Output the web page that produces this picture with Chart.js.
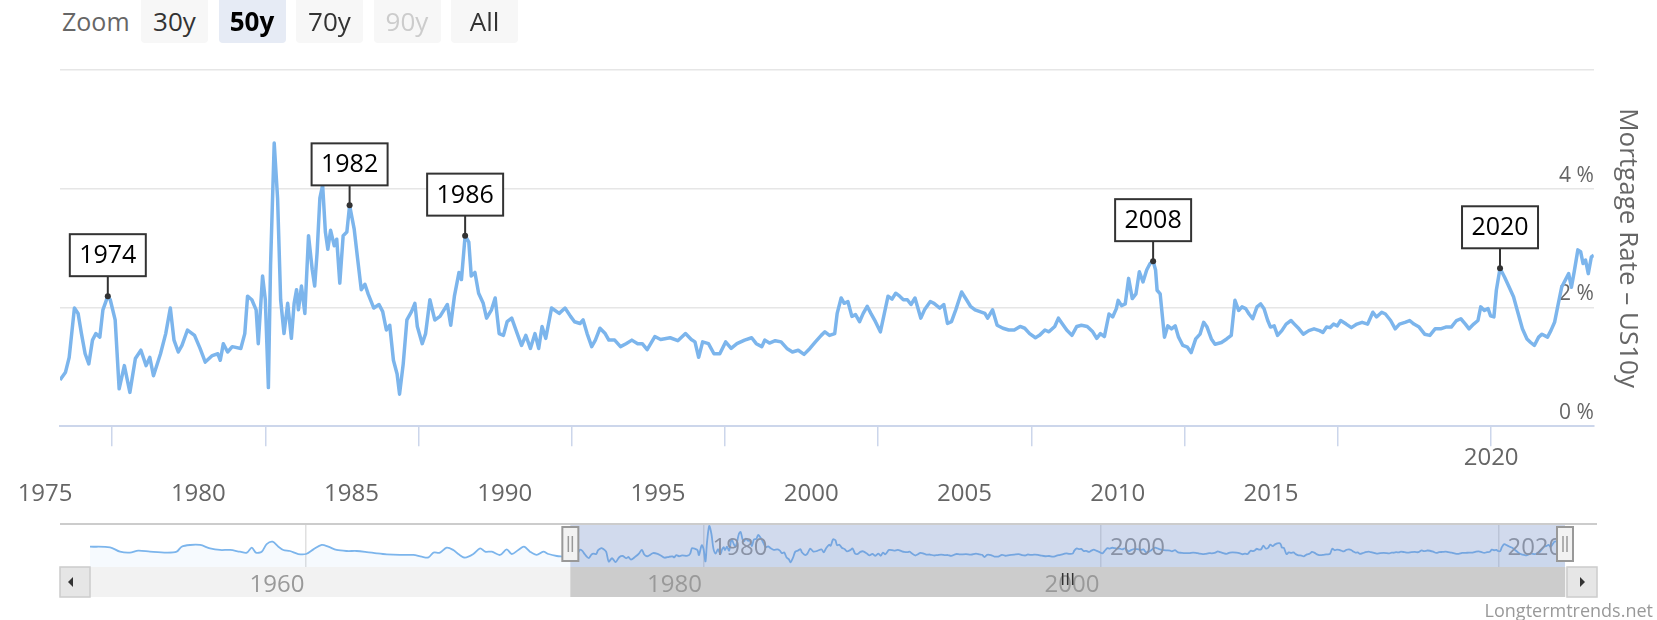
<!DOCTYPE html>
<html>
<head>
<meta charset="utf-8">
<script src="https://cdn.jsdelivr.net/npm/chart.js@4.4.0/dist/chart.umd.min.js"></script>
<style>
  html, body { margin: 0; padding: 0; background: #fff; }
  body { width: 1657px; height: 620px; position: relative; overflow: hidden; font-family: "Open Sans", sans-serif; }
  #mainChart { position: absolute; left: 0; top: 0; }
  #navChart { position: absolute; left: 0; top: 500px; }
  #zoomLabel { position: absolute; left: 62px; top: 0; height: 43px; line-height: 43px; font-size: 25px; color: #666; }
  .rbtn { position: absolute; top: 0; width: 67px; height: 43px; line-height: 43px; text-align: center;
          font-size: 26px; color: #333; background: #f7f7f7; border-radius: 0 0 4px 4px; }
  .rbtn.sel { background: #e6ebf5; color: #000; font-weight: bold; }
  .rbtn.off { color: #ccc; }
  #credits { position: absolute; right: 4px; top: 598px; font-size: 18px; line-height: 24px; color: #999; }
</style>
</head>
<body>
<div id="zoomLabel">Zoom</div>
<canvas id="mainChart" width="1657" height="620" style="width:1657px;height:620px"></canvas>
<canvas id="navChart" width="1657" height="120" style="width:1657px;height:120px"></canvas>
<div id="credits">Longtermtrends.net</div>
<script>
// Range selector
const rangeButtons = ['30y', '50y', '70y', '90y', 'All'];
const rangeSelected = '50y';
const rangeDisabled = ['90y'];

// Visible window (decimal years)
const viewMin = 1973.3;
const viewMax = 2023.35;

// Spread: mortgage rate minus US 10y yield (%)
const mainYears = [
  1973.30, 1973.48, 1973.60, 1973.77, 1973.89, 1974.00, 1974.12, 1974.24, 1974.36, 1974.47,
  1974.60, 1974.70, 1974.86, 1974.94, 1975.10, 1975.23, 1975.40, 1975.58, 1975.76, 1975.94,
  1976.11, 1976.23, 1976.35, 1976.58, 1976.75, 1976.90, 1977.02, 1977.16, 1977.28, 1977.46,
  1977.69, 1977.87, 1978.04, 1978.27, 1978.45, 1978.53, 1978.63, 1978.77, 1978.92, 1979.20,
  1979.33, 1979.42, 1979.56, 1979.70, 1979.77, 1979.91, 1980.00, 1980.10, 1980.17, 1980.29,
  1980.40, 1980.50, 1980.61, 1980.73, 1980.85, 1980.94, 1981.02, 1981.08, 1981.18, 1981.29,
  1981.41, 1981.53, 1981.61, 1981.69, 1981.78, 1981.87, 1981.96, 1982.04, 1982.13, 1982.25,
  1982.33, 1982.43, 1982.54, 1982.66, 1982.75, 1982.90, 1983.00, 1983.13, 1983.25, 1983.36,
  1983.54, 1983.71, 1983.83, 1983.95, 1984.06, 1984.18, 1984.30, 1984.38, 1984.50, 1984.62,
  1984.77, 1984.88, 1984.96, 1985.12, 1985.23, 1985.37, 1985.53, 1985.70, 1985.94, 1986.05,
  1986.17, 1986.32, 1986.40, 1986.52, 1986.64, 1986.72, 1986.84, 1986.96, 1987.11, 1987.22,
  1987.38, 1987.50, 1987.63, 1987.77, 1987.89, 1988.04, 1988.22, 1988.36, 1988.50, 1988.65,
  1988.80, 1988.92, 1989.03, 1989.15, 1989.34, 1989.59, 1989.78, 1989.96, 1990.09, 1990.27,
  1990.37, 1990.50, 1990.65, 1990.77, 1990.92, 1991.09, 1991.21, 1991.40, 1991.59, 1991.77,
  1991.96, 1992.15, 1992.30, 1992.46, 1992.71, 1992.90, 1993.21, 1993.46, 1993.71, 1993.90,
  1994.02, 1994.14, 1994.27, 1994.46, 1994.64, 1994.83, 1995.02, 1995.20, 1995.39, 1995.64,
  1995.87, 1996.02, 1996.20, 1996.30, 1996.45, 1996.64, 1996.83, 1997.02, 1997.20, 1997.39,
  1997.58, 1997.77, 1997.95, 1998.14, 1998.26, 1998.41, 1998.58, 1998.66, 1998.79, 1998.89,
  1999.01, 1999.14, 1999.26, 1999.39, 1999.51, 1999.64, 1999.76, 1999.91, 2000.07, 2000.20,
  2000.32, 2000.45, 2000.57, 2000.70, 2000.82, 2000.95, 2001.07, 2001.20, 2001.39, 2001.51,
  2001.70, 2001.82, 2002.01, 2002.14, 2002.26, 2002.39, 2002.53, 2002.72, 2002.88, 2003.01,
  2003.16, 2003.32, 2003.48, 2003.57, 2003.73, 2003.88, 2004.07, 2004.26, 2004.44, 2004.63,
  2004.78, 2004.94, 2005.13, 2005.26, 2005.44, 2005.57, 2005.76, 2005.88, 2006.00, 2006.15,
  2006.32, 2006.48, 2006.63, 2006.82, 2007.00, 2007.13, 2007.25, 2007.38, 2007.53, 2007.65,
  2007.77, 2007.83, 2007.94, 2008.06, 2008.17, 2008.29, 2008.41, 2008.52, 2008.64, 2008.76,
  2008.87, 2008.97, 2009.05, 2009.10, 2009.20, 2009.34, 2009.45, 2009.57, 2009.69, 2009.80,
  2009.94, 2010.09, 2010.21, 2010.36, 2010.50, 2010.62, 2010.73, 2010.87, 2010.99, 2011.20,
  2011.37, 2011.52, 2011.64, 2011.76, 2011.87, 2011.99, 2012.10, 2012.22, 2012.36, 2012.48,
  2012.59, 2012.71, 2012.80, 2012.92, 2013.03, 2013.17, 2013.31, 2013.47, 2013.58, 2013.73,
  2013.87, 2014.05, 2014.22, 2014.40, 2014.51, 2014.63, 2014.74, 2014.86, 2014.98, 2015.09,
  2015.27, 2015.44, 2015.62, 2015.79, 2015.97, 2016.14, 2016.26, 2016.43, 2016.55, 2016.72,
  2016.87, 2017.01, 2017.19, 2017.34, 2017.48, 2017.65, 2017.83, 2018.00, 2018.17, 2018.35,
  2018.52, 2018.70, 2018.87, 2019.01, 2019.16, 2019.28, 2019.43, 2019.57, 2019.66, 2019.78,
  2019.90, 2019.98, 2020.09, 2020.17, 2020.29, 2020.44, 2020.59, 2020.73, 2020.87, 2021.02,
  2021.17, 2021.29, 2021.41, 2021.55, 2021.66, 2021.84, 2021.95, 2022.07, 2022.19, 2022.30,
  2022.42, 2022.53, 2022.62, 2022.71, 2022.83, 2022.92, 2023.00, 2023.08, 2023.17, 2023.27,
  2023.35
];
const mainValues = [
  0.78, 0.91, 1.16, 1.99, 1.90, 1.56, 1.22, 1.05, 1.45, 1.56,
  1.50, 1.96, 2.19, 2.13, 1.79, 0.63, 1.02, 0.57, 1.14, 1.28,
  1.02, 1.16, 0.85, 1.22, 1.56, 1.99, 1.45, 1.25, 1.36, 1.62,
  1.53, 1.31, 1.08, 1.19, 1.22, 1.11, 1.39, 1.25, 1.34, 1.31,
  1.56, 2.19, 2.13, 1.96, 1.39, 2.53, 2.13, 0.65, 2.70, 4.77,
  3.84, 2.13, 1.56, 2.07, 1.48, 2.07, 2.30, 1.96, 2.36, 1.90,
  3.21, 2.64, 2.36, 2.93, 3.84, 4.06, 3.27, 2.98, 3.30, 3.04,
  3.15, 2.41, 3.21, 3.27, 3.72, 3.32, 2.87, 2.30, 2.39, 2.22,
  1.99, 2.05, 1.93, 1.62, 1.70, 1.11, 0.88, 0.54, 1.05, 1.79,
  1.93, 2.07, 1.68, 1.39, 1.56, 2.13, 1.79, 1.85, 2.05, 1.70,
  2.19, 2.59, 2.47, 3.21, 3.10, 2.53, 2.59, 2.24, 2.07, 1.82,
  1.96, 2.16, 1.56, 1.53, 1.76, 1.82, 1.56, 1.36, 1.53, 1.31,
  1.56, 1.31, 1.68, 1.48, 1.99, 1.90, 1.99, 1.85, 1.76, 1.73,
  1.79, 1.56, 1.34, 1.45, 1.65, 1.56, 1.45, 1.45, 1.34, 1.39,
  1.45, 1.39, 1.39, 1.29, 1.51, 1.46, 1.49, 1.44, 1.56, 1.46,
  1.42, 1.16, 1.42, 1.39, 1.22, 1.22, 1.42, 1.31, 1.39, 1.45,
  1.49, 1.39, 1.34, 1.45, 1.40, 1.44, 1.42, 1.31, 1.25, 1.28,
  1.21, 1.31, 1.42, 1.53, 1.59, 1.53, 1.56, 1.90, 2.16, 2.07,
  2.10, 1.85, 1.88, 1.76, 1.90, 2.02, 1.90, 1.76, 1.59, 1.90,
  2.19, 2.14, 2.24, 2.19, 2.13, 2.13, 2.05, 2.16, 1.82, 1.96,
  2.10, 2.07, 1.99, 2.05, 1.73, 1.76, 1.96, 2.26, 2.13, 2.02,
  1.96, 1.93, 1.90, 1.82, 1.96, 1.70, 1.65, 1.62, 1.62, 1.68,
  1.65, 1.56, 1.49, 1.53, 1.62, 1.59, 1.68, 1.82, 1.73, 1.62,
  1.53, 1.68, 1.70, 1.68, 1.59, 1.48, 1.56, 1.51, 1.89, 1.84,
  1.98, 2.12, 2.03, 2.06, 2.49, 2.15, 2.23, 2.60, 2.43, 2.63,
  2.74, 2.78, 2.63, 2.29, 2.23, 1.50, 1.69, 1.64, 1.69, 1.50,
  1.36, 1.33, 1.24, 1.47, 1.55, 1.75, 1.67, 1.47, 1.38, 1.41,
  1.47, 1.53, 2.12, 1.95, 2.01, 1.98, 1.89, 1.81, 2.01, 2.06,
  1.98, 1.78, 1.67, 1.69, 1.53, 1.61, 1.72, 1.78, 1.72, 1.64,
  1.55, 1.61, 1.64, 1.61, 1.58, 1.67, 1.66, 1.72, 1.69, 1.78,
  1.72, 1.66, 1.72, 1.75, 1.72, 1.92, 1.84, 1.92, 1.89, 1.78,
  1.64, 1.72, 1.75, 1.78, 1.72, 1.67, 1.55, 1.53, 1.64, 1.64,
  1.67, 1.67, 1.78, 1.81, 1.72, 1.64, 1.72, 1.78, 2.01, 1.95,
  1.98, 1.86, 1.84, 2.29, 2.66, 2.51, 2.34, 2.18, 1.92, 1.64,
  1.47, 1.41, 1.36, 1.50, 1.55, 1.50, 1.61, 1.75, 2.06, 2.34,
  2.46, 2.57, 2.34, 2.60, 2.97, 2.94, 2.74, 2.80, 2.57, 2.85,
  2.88
];

// Flags on the series
const flagLabels = ['1974', '1982', '1986', '2008', '2020'];
const flagX = [1974.86, 1982.75, 1986.52, 2008.97, 2020.29];
const flagY = [2.19, 3.72, 3.21, 2.78, 2.66];

// Axis ticks
const xTickYears = [1975, 1980, 1985, 1990, 1995, 2000, 2005, 2010, 2015, 2020];
const xTickLabels = ['1975', '1980', '1985', '1990', '1995', '2000', '2005', '2010', '2015', ''];
const xRaisedLabel = '2020';
const xRaisedYear = 2020;
const yTickValues = [0, 2, 4, 6];

// Navigator: earlier history, then the main series
const navHistoryYears = [
  1949.13, 1950.14, 1950.64, 1951.14, 1951.56, 1952.15, 1952.99, 1953.49, 1953.74, 1954.16,
  1954.67, 1955.17, 1955.67, 1956.18, 1956.68, 1957.02, 1957.27, 1957.48, 1957.77, 1958.02,
  1958.32, 1958.61, 1958.86, 1959.19, 1959.61, 1960.00, 1960.37, 1960.79, 1961.12, 1961.54,
  1962.05, 1962.55, 1963.06, 1963.56, 1964.06, 1964.73, 1965.40, 1965.82, 1966.16, 1966.41,
  1966.74, 1967.08, 1967.41, 1967.66, 1968.00, 1968.42, 1968.76, 1969.01, 1969.35, 1969.76,
  1970.10, 1970.35, 1970.68, 1970.97, 1971.27, 1971.61, 1971.94, 1972.20, 1972.62, 1973.12
];
const navHistoryValues = [
  2.36, 2.29, 1.78, 1.67, 1.90, 1.78, 1.67, 1.78, 2.36, 2.56,
  2.56, 2.17, 1.98, 1.98, 1.78, 1.67, 2.25, 1.67, 1.78, 2.67,
  2.95, 2.36, 1.98, 1.86, 1.51, 1.51, 2.05, 2.56, 2.36, 1.98,
  1.86, 1.86, 1.74, 1.59, 1.47, 1.40, 1.40, 1.20, 1.12, 1.67,
  1.67, 2.25, 1.98, 1.51, 1.09, 1.51, 2.17, 1.78, 1.78, 1.40,
  2.05, 1.51, 1.98, 2.36, 1.78, 1.40, 1.78, 1.51, 1.28, 1.12
];
const navMin = 1949.13;
const navMax = 2023.35;
const navTickYears = [1960, 1980, 2000, 2020];
const navInnerYears = [1980, 2000, 2020];
const navInnerLabels = ['1980', '2000', '2020'];
const navLowerYears = [1960, 1980, 2000];
const navLowerLabels = ['1960', '1980', '2000'];

Chart.defaults.font.family = "'Open Sans', sans-serif";

// Range selector buttons
rangeButtons.forEach(function (name, i) {
  const b = document.createElement('div');
  b.className = 'rbtn';
  if (name === rangeSelected) b.className += ' sel';
  if (rangeDisabled.includes(name)) b.className += ' off';
  b.style.left = (141 + i * 77.5) + 'px';
  b.textContent = name;
  document.body.appendChild(b);
});

const flagPlugin = {
  id: 'flags',
  afterDatasetsDraw(chart) {
    const ctx = chart.ctx;
    const x = chart.scales.x;
    const y = chart.scales.y;
    const w = 76, h = 42, gap = 20;
    ctx.save();
    for (let i = 0; i < flagLabels.length; i++) {
      const px = x.getPixelForValue(flagX[i]);
      const py = y.getPixelForValue(flagY[i]);
      ctx.strokeStyle = '#333';
      ctx.lineWidth = 2;
      ctx.beginPath();
      ctx.moveTo(px, py);
      ctx.lineTo(px, py - gap);
      ctx.stroke();
      ctx.fillStyle = '#333';
      ctx.beginPath();
      ctx.arc(px, py, 3, 0, Math.PI * 2);
      ctx.fill();
      ctx.fillStyle = '#fff';
      ctx.fillRect(px - w / 2, py - gap - h, w, h);
      ctx.strokeRect(px - w / 2, py - gap - h, w, h);
      ctx.fillStyle = '#000';
      ctx.font = '25px "Open Sans"';
      ctx.textAlign = 'center';
      ctx.textBaseline = 'middle';
      ctx.fillText(flagLabels[i], px, py - gap - h / 2 + 1);
    }
    // the one x label that sits higher, straight under its tick
    ctx.fillStyle = '#666';
    ctx.font = '24px "Open Sans"';
    ctx.fillText(xRaisedLabel, x.getPixelForValue(xRaisedYear), chart.chartArea.bottom + 32);
    ctx.restore();
  }
};

new Chart(document.getElementById('mainChart'), {
  type: 'line',
  data: {
    datasets: [{
      data: mainYears.map((t, i) => ({ x: t, y: mainValues[i] })),
      borderColor: '#7cb5ec',
      borderWidth: 3.5,
      borderJoinStyle: 'round',
      pointRadius: 0,
      tension: 0
    }]
  },
  options: {
    responsive: false,
    animation: false,
    layout: { padding: { left: 60, top: 70, right: 0, bottom: 77 } },
    plugins: { legend: { display: false }, tooltip: { enabled: false } },
    scales: {
      x: {
        type: 'linear',
        min: viewMin,
        max: viewMax,
        afterBuildTicks: s => { s.ticks = xTickYears.map(v => ({ value: v })); },
        grid: { drawOnChartArea: false, drawTicks: true, tickLength: 20, color: '#ccd6eb', lineWidth: 1.5 },
        border: { display: true, color: '#ccd6eb', width: 2 },
        ticks: {
          autoSkip: false, maxRotation: 0, labelOffset: -67, padding: 34,
          color: '#666', font: { size: 24 },
          callback: (v, i) => xTickLabels[i]
        }
      },
      y: {
        position: 'right',
        min: 0,
        max: 6,
        afterBuildTicks: s => { s.ticks = yTickValues.map(v => ({ value: v })); },
        grid: { color: c => (c.tick && c.tick.value === 0) ? 'rgba(0,0,0,0)' : '#e6e6e6', lineWidth: 1.5, drawTicks: false },
        border: { display: false },
        ticks: {
          mirror: true, padding: 0, labelOffset: -13,
          color: '#666', font: { size: 21 },
          callback: v => v === 6 ? '' : v + ' %'
        },
        title: {
          display: true, text: 'Mortgage Rate – US10y', color: '#666',
          font: { size: 26 }, padding: { top: 14, bottom: 18 }
        }
      }
    }
  },
  plugins: [flagPlugin]
});

const navPlugin = {
  id: 'navExtras',
  afterDatasetsDraw(chart) {
    const ctx = chart.ctx;
    const x = chart.scales.x;
    const { left, right, top, bottom } = chart.chartArea;
    const m0 = x.getPixelForValue(viewMin);
    const m1 = x.getPixelForValue(viewMax);
    ctx.save();
    ctx.font = '24px "Open Sans"';
    ctx.textBaseline = 'middle';
    // labels inside the navigator, under the mask
    ctx.fillStyle = '#999';
    ctx.textAlign = 'left';
    navInnerYears.forEach((yr, i) => ctx.fillText(navInnerLabels[i], x.getPixelForValue(yr) + 9, top + 24));
    // mask
    ctx.fillStyle = 'rgba(102,133,194,0.3)';
    ctx.fillRect(m0, top, m1 - m0, bottom - top);
    // outline
    ctx.strokeStyle = '#cccccc';
    ctx.lineWidth = 2;
    ctx.beginPath();
    ctx.moveTo(left - 30, top);
    ctx.lineTo(right + 32, top);
    ctx.stroke();
    // scrollbar
    const sTop = bottom, sH = 30;
    ctx.fillStyle = '#f2f2f2';
    ctx.fillRect(left, sTop, right + 2 - left, sH);
    ctx.fillStyle = '#cccccc';
    ctx.fillRect(m0, sTop, m1 - m0, sH);
    ctx.fillStyle = '#e6e6e6';
    ctx.strokeStyle = '#cccccc';
    ctx.lineWidth = 1.5;
    ctx.fillRect(left - 30, sTop, 30, sH);
    ctx.strokeRect(left - 30, sTop, 30, sH);
    ctx.fillRect(right + 2, sTop, 30, sH);
    ctx.strokeRect(right + 2, sTop, 30, sH);
    ctx.fillStyle = '#333';
    ctx.beginPath();
    ctx.moveTo(left - 17, sTop + sH / 2 - 5);
    ctx.lineTo(left - 17, sTop + sH / 2 + 5);
    ctx.lineTo(left - 12 - 10, sTop + sH / 2);
    ctx.closePath();
    ctx.fill();
    ctx.beginPath();
    ctx.moveTo(right + 15, sTop + sH / 2 - 5);
    ctx.lineTo(right + 15, sTop + sH / 2 + 5);
    ctx.lineTo(right + 20, sTop + sH / 2);
    ctx.closePath();
    ctx.fill();
    // labels that fell into the scrollbar row
    ctx.fillStyle = '#999';
    ctx.textAlign = 'center';
    navLowerYears.forEach((yr, i) => ctx.fillText(navLowerLabels[i], x.getPixelForValue(yr) - 29, sTop + 18));
    // grip
    const gc = (m0 + m1) / 2;
    ctx.strokeStyle = '#333';
    ctx.lineWidth = 1.5;
    ctx.beginPath();
    [-5, 0, 5].forEach(d => { ctx.moveTo(gc + d, sTop + 6); ctx.lineTo(gc + d, sTop + 18); });
    ctx.stroke();
    // handles
    [m0, m1].forEach(cx => {
      const hw = 16, hh = 34, y0 = top + 3;
      ctx.fillStyle = '#f2f2f2';
      ctx.strokeStyle = '#999';
      ctx.lineWidth = 2;
      ctx.fillRect(cx - hw / 2, y0, hw, hh);
      ctx.strokeRect(cx - hw / 2, y0, hw, hh);
      ctx.lineWidth = 1.5;
      ctx.beginPath();
      ctx.moveTo(cx - 2, y0 + 9); ctx.lineTo(cx - 2, y0 + hh - 9);
      ctx.moveTo(cx + 2, y0 + 9); ctx.lineTo(cx + 2, y0 + hh - 9);
      ctx.stroke();
    });
    ctx.restore();
  }
};

const navYears = navHistoryYears.concat(mainYears);
const navValues = navHistoryValues.concat(mainValues);

new Chart(document.getElementById('navChart'), {
  type: 'line',
  data: {
    datasets: [{
      data: navYears.map((t, i) => ({ x: t, y: navValues[i] })),
      borderColor: '#7cb5ec',
      borderWidth: 1.8,
      pointRadius: 0,
      tension: 0.3,
      fill: 'origin',
      backgroundColor: 'rgba(124,181,236,0.07)'
    }]
  },
  options: {
    responsive: false,
    animation: false,
    layout: { padding: { left: 90, right: 92, top: 24, bottom: 53 } },
    plugins: { legend: { display: false }, tooltip: { enabled: false } },
    scales: {
      x: {
        type: 'linear', min: navMin, max: navMax,
        afterBuildTicks: s => { s.ticks = navTickYears.map(v => ({ value: v })); },
        ticks: { display: false },
        grid: { color: '#e0e0e0', lineWidth: 1.5, drawTicks: false },
        border: { display: false }
      },
      y: { display: false, min: 0, max: 5 }
    }
  },
  plugins: [navPlugin]
});
</script>
</body>
</html>
